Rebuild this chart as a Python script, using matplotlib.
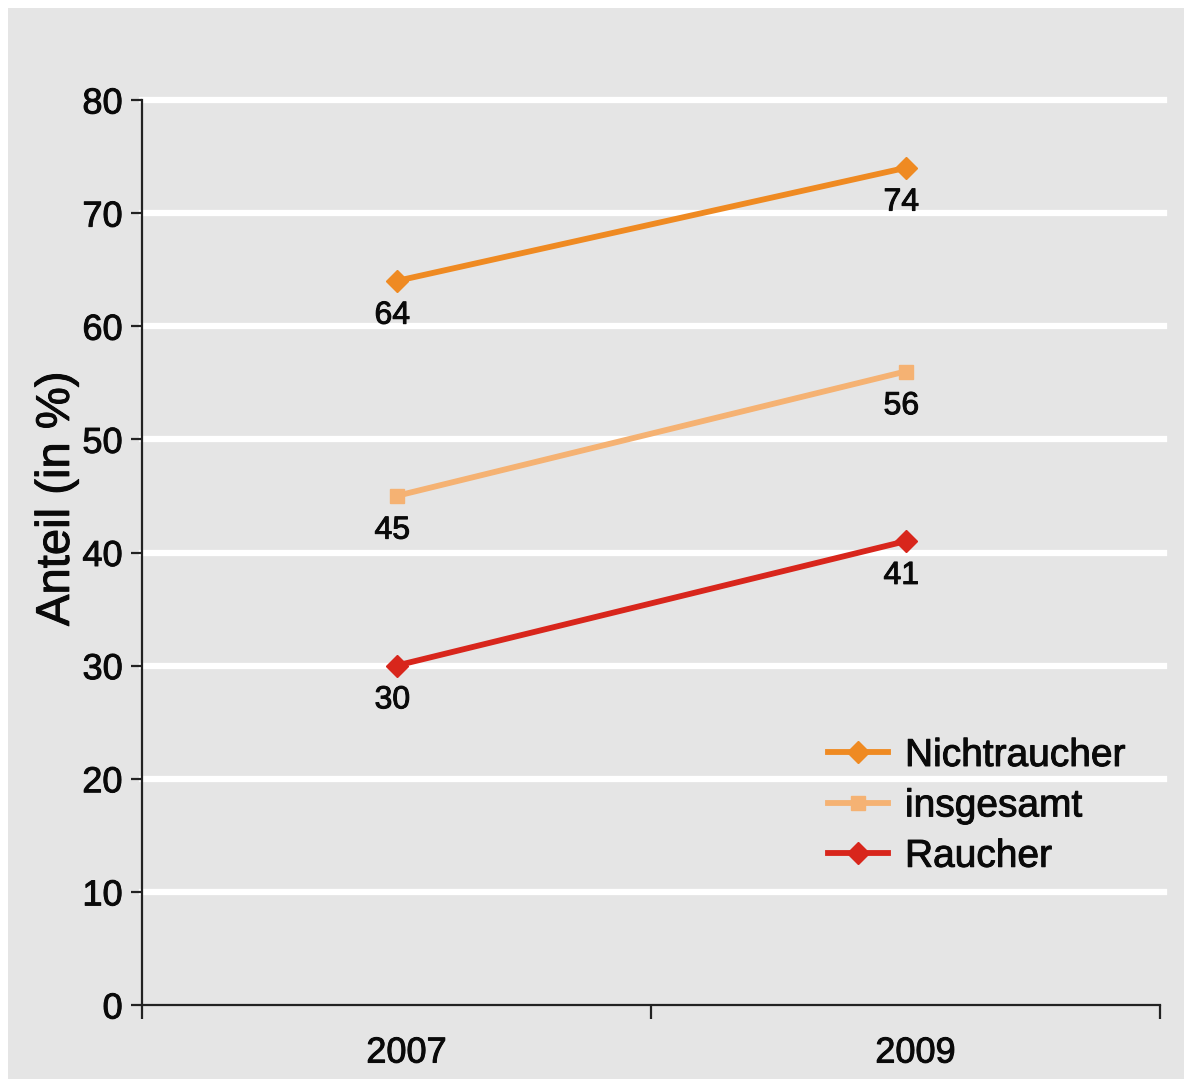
import matplotlib
matplotlib.use("Agg")
import matplotlib.pyplot as plt
import matplotlib.patheffects as pe
from matplotlib.patches import Rectangle
from matplotlib.transforms import ScaledTranslation

plt.rcParams['font.family'] = ['Liberation Sans', 'DejaVu Sans']

# ---- data ----
years = ["2007", "2009"]
series_names = ["Nichtraucher", "insgesamt", "Raucher"]
nichtraucher = [64, 74]
insgesamt = [45, 56]
raucher = [30, 41]
y_ticks = [0, 10, 20, 30, 40, 50, 60, 70, 80]

colors = ["#EF8A22", "#F5B273", "#D8261C"]
markers = ["D", "s", "D"]
msizes = [11, 9.5, 11]
TXT = "#0a0a0a"
heavy = [pe.withStroke(linewidth=0.7, foreground=TXT)]

W, H = 1184, 1079
fig = plt.figure(figsize=(W / 100, H / 100), dpi=100, facecolor="#E5E5E5")
fig.patches.append(Rectangle((0, 1 - 8 / H), 1, 8 / H, transform=fig.transFigure,
                             facecolor="white", edgecolor="none", zorder=-10))
fig.patches.append(Rectangle((0, 0), 8 / W, 1, transform=fig.transFigure,
                             facecolor="white", edgecolor="none", zorder=-10))

ax = fig.add_axes([142 / W, 1 - 1005 / H, (1160 - 142) / W, (1005 - 100) / H])
ax.set_facecolor("none")

xpos = [i + 0.5 for i in range(len(years))]
ax.set_xlim(0, len(years))
ax.set_ylim(0, 80)

for yv in y_ticks[1:]:
    ax.axhline(yv, xmin=0, xmax=1.004, color="white", lw=4.5, zorder=1, clip_on=False)

for name, vals, c, m, ms in zip(series_names, [nichtraucher, insgesamt, raucher], colors, markers, msizes):
    ax.plot(xpos, vals, color=c, lw=4.2, marker=m, ms=ms, mec=c, mfc=c, label=name, zorder=3)
    for x, v in zip(xpos, vals):
        ax.annotate(str(v), xy=(x, v), xytext=(-3, -25), textcoords="offset points",
                    ha="center", va="center", fontsize=23, color=TXT, zorder=4,
                    path_effects=heavy)

# spines
for s in ["top", "right"]:
    ax.spines[s].set_visible(False)
for s in ["left", "bottom"]:
    ax.spines[s].set_linewidth(1.6)
    ax.spines[s].set_color("#222222")

ax.set_yticks(y_ticks)
ax.set_yticklabels([str(t) for t in y_ticks])
ax.tick_params(axis="y", length=8, width=1.6, pad=6, labelsize=26, colors="#222222", labelcolor=TXT)

ax.set_xticks([0, 1, 2])
ax.set_xticklabels(["", "", ""])
ax.tick_params(axis="x", which="major", length=10, width=1.6, colors="#222222")
ax.set_xticks(xpos, minor=True)
ax.set_xticklabels(years, minor=True)
ax.tick_params(axis="x", which="minor", length=0, pad=22, labelsize=26, labelcolor=TXT)
off = ScaledTranslation(10 / 100, 0, fig.dpi_scale_trans)
for lab in ax.get_xticklabels(minor=True):
    lab.set_transform(lab.get_transform() + off)
for lab in ax.get_xticklabels(minor=True) + ax.get_yticklabels():
    lab.set_path_effects(heavy)

ax.set_ylabel("Anteil (in %)", fontsize=34, color=TXT, path_effects=heavy)
ax.yaxis.set_label_coords(-0.062, 0.559)

leg = ax.legend(loc="upper left", bbox_to_anchor=(828 / W, 1 - 738 / H),
                bbox_transform=fig.transFigure, frameon=False, fontsize=28,
                handlelength=1.55, handletextpad=0.43, labelspacing=0.37,
                borderpad=0, borderaxespad=0)
for t in leg.get_texts():
    t.set_color(TXT)
    t.set_path_effects(heavy)

fig.savefig("out.png", dpi=100, facecolor=fig.get_facecolor())
